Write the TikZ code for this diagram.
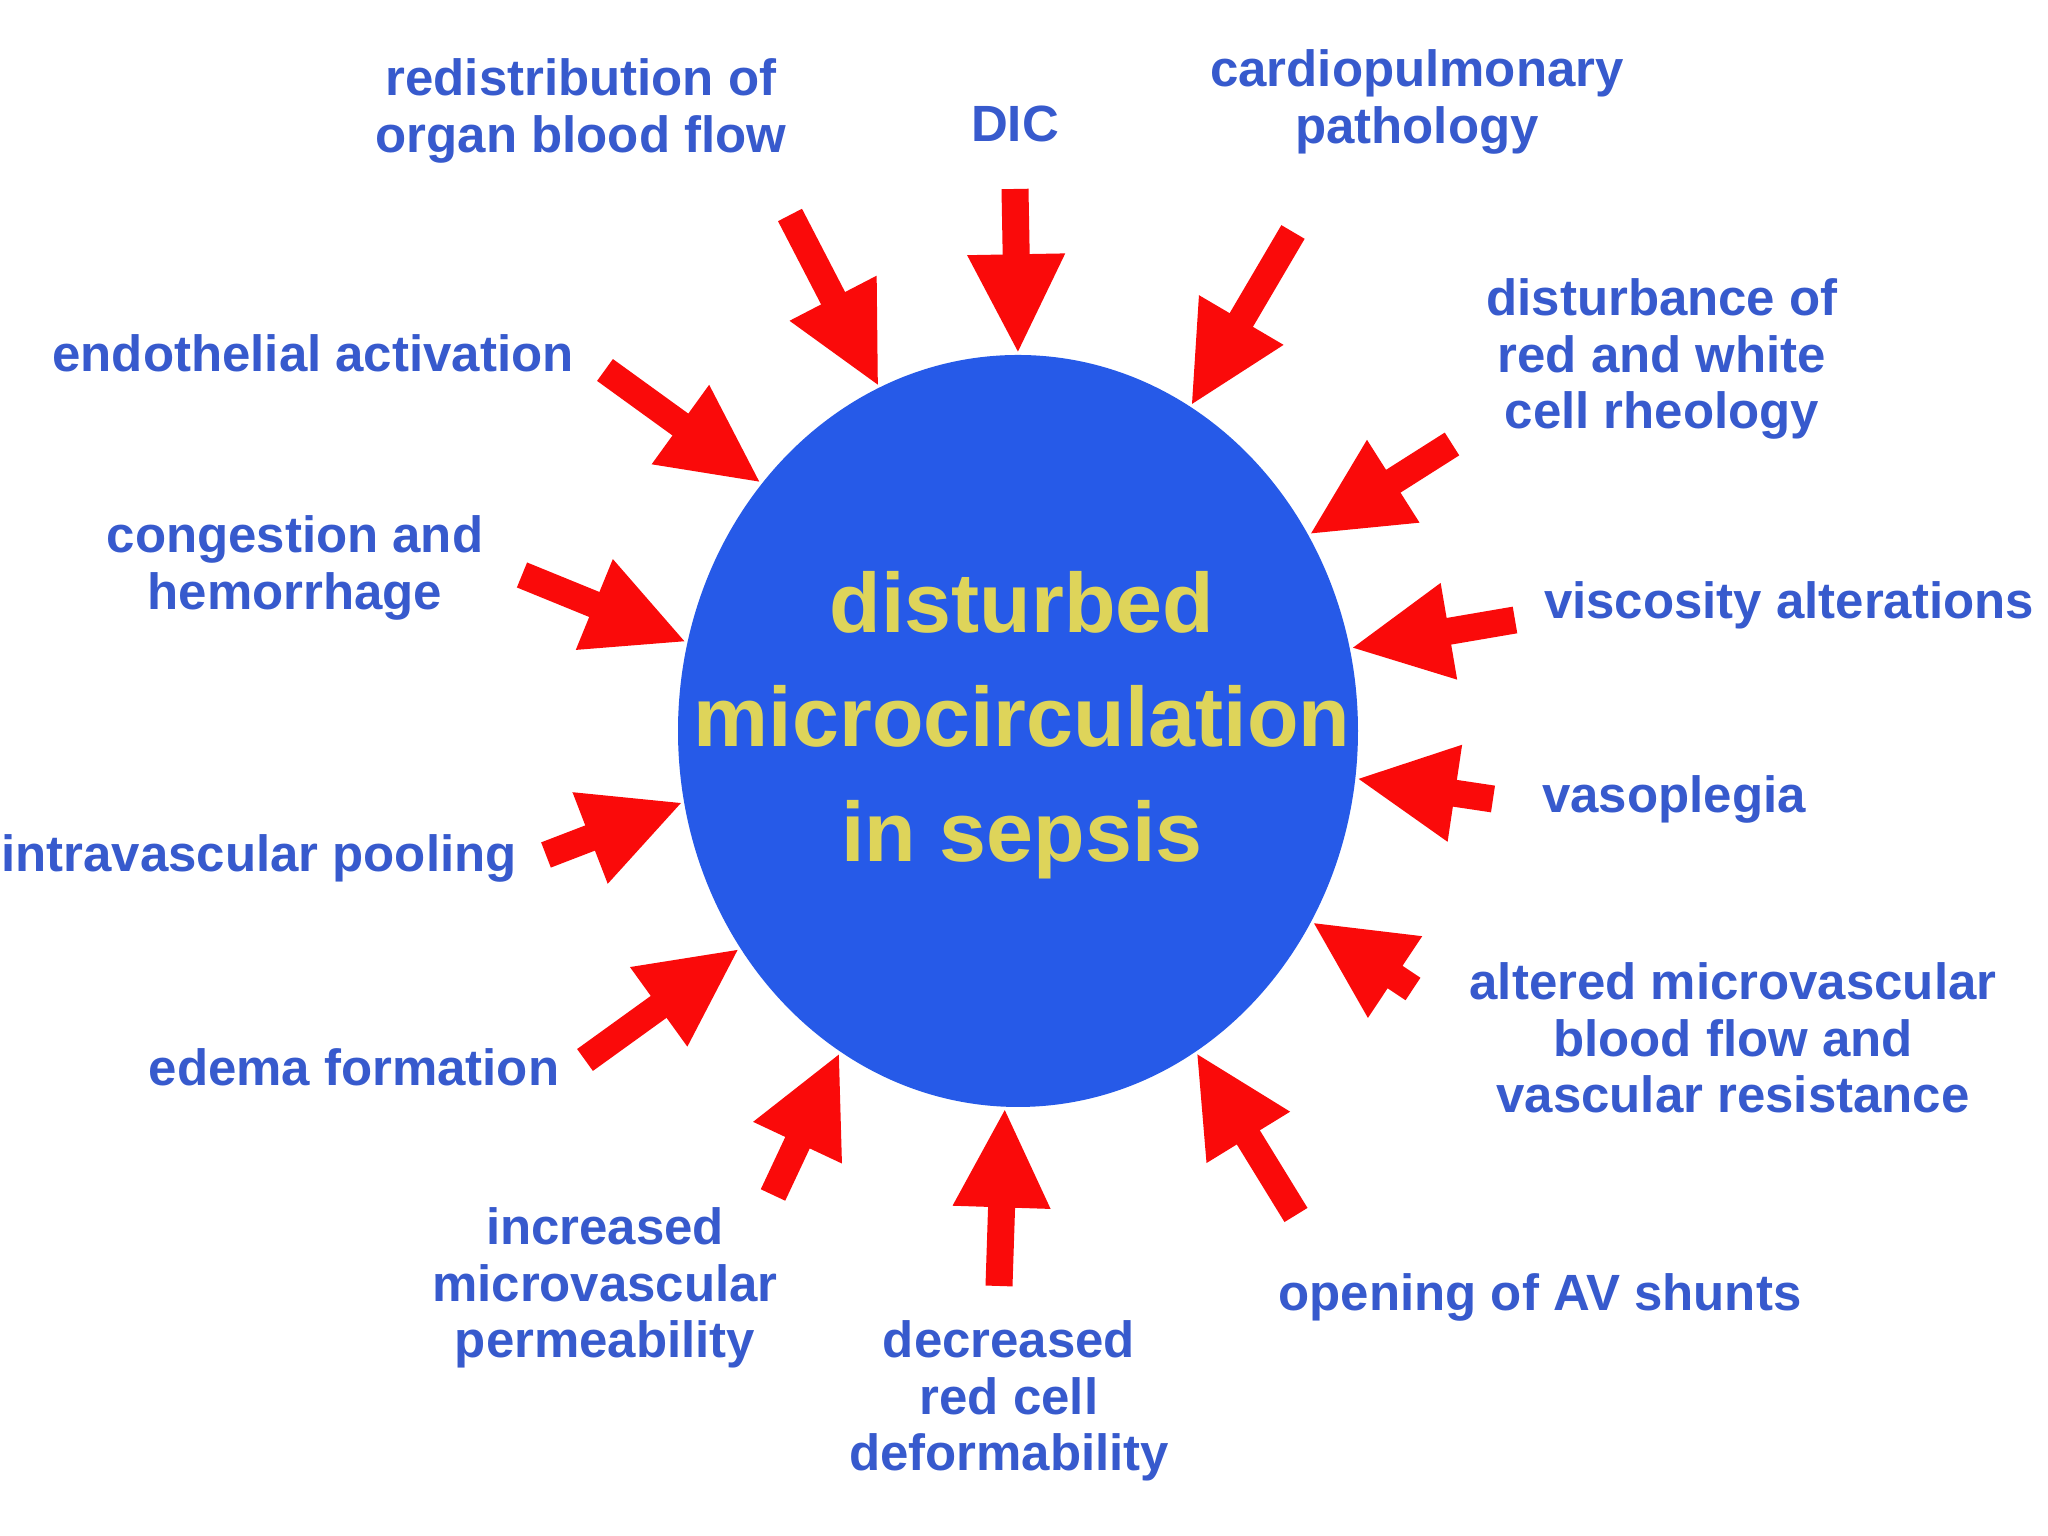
\documentclass[tikz,border=0pt]{standalone}
\usepackage{fontspec}
\setmainfont{Liberation Sans}
\usepackage{tikz}
\usetikzlibrary{arrows.meta,shapes.geometric}
\definecolor{coreblue}{RGB}{38,90,232}
\definecolor{labelblue}{RGB}{55,90,205}
\definecolor{sunny}{RGB}{222,212,90}
\definecolor{alarm}{RGB}{250,10,10}
\tikzset{
  core/.style={ellipse,fill=coreblue,minimum width=6.8cm,minimum height=7.52cm,inner sep=0pt},
  coretext/.style={align=center,text=sunny,font=\bfseries\fontsize{24}{32.5}\selectfont},
  cause/.style={align=center,text=labelblue,inner sep=1pt,font=\bfseries\fontsize{14.5}{16}\selectfont},
  push/.style={draw=alarm,line width=0.27cm,-{Triangle[width=0.9cm,length=1.0cm]}}
}
\begin{document}
\begin{tikzpicture}
\useasboundingbox[fill=white] (0,0) rectangle (20.48,15.36);
\node[core] (core) at (10.18,8.05) {};
\node[coretext] (title) at (10.22,8.11) {disturbed\\microcirculation\\in sepsis};
% causes around the circle
\node[cause] (redist) at (5.81,14.25) {redistribution of\\organ blood flow};
\node[cause] (dic) at (10.15,14.12) {DIC};
\node[cause] (cardio) at (14.17,14.34) {cardiopulmonary\\pathology};
\node[cause] (rheo) at (16.62,11.77) {disturbance of\\red and white\\cell rheology};
\node[cause] (visc) at (17.89,9.31) {viscosity alterations};
\node[cause] (vasop) at (16.74,7.37) {vasoplegia};
\node[cause] (altered) at (17.33,4.98) {altered microvascular\\blood flow and\\vascular resistance};
\node[cause] (shunts) at (15.40,2.39) {opening of AV shunts};
\node[cause] (deform) at (10.09,1.35) {decreased\\red cell\\deformability};
\node[cause] (perm) at (6.05,2.48) {increased\\microvascular\\permeability};
\node[cause] (edema) at (3.54,4.69) {edema formation};
\node[cause] (pool) at (2.59,6.78) {intravascular pooling};
\node[cause] (cong) at (2.95,9.68) {congestion and\\hemorrhage};
\node[cause] (endo) at (3.13,11.83) {endothelial activation};
% red arrows pointing at the circle
\foreach \tx/\ty/\ang/\name in {7.90/13.21/112.8/redist, 10.15/13.47/90.4/dic, 12.93/13.04/62.1/cardio,
  14.52/10.92/34.2/rheo, 15.15/9.16/14.3/visc, 14.93/7.37/-8.8/vasop, 14.13/5.47/-33.9/altered,
  12.96/3.21/-61.2/shunts, 9.99/2.50/-92.8/deform, 7.73/3.41/-119.3/perm, 5.85/4.76/-142.7/edema,
  5.46/6.81/-168/pool, 5.22/9.61/165.4/cong, 6.05/11.66/136.5/endo} {
  \coordinate (t\name) at (\tx,\ty);
  \draw[push] (t\name) -- (core.\ang);
}
\end{tikzpicture}
\end{document}
